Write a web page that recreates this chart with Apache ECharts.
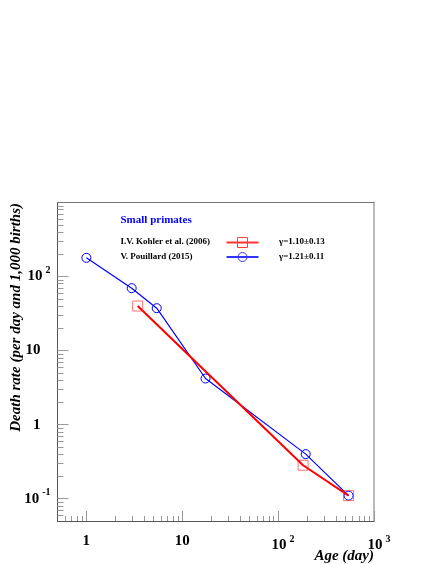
<!DOCTYPE html>
<html>
<head>
<meta charset="utf-8">
<script src="https://cdn.jsdelivr.net/npm/echarts@6/dist/echarts.min.js"></script>
<style>
html,body{margin:0;padding:0;background:#fff;}
#c{width:436px;height:564px;}
</style>
</head>
<body>
<div id="c"></div>
<script>
// ---- data ----
const kohlerAge = [3.43, 182, 543];
const kohlerRate = [40, 0.283, 0.11];
const pouillardAge = [1.0, 2.97, 5.42, 17.5, 194, 543];
const pouillardRate = [179, 69.7, 37.4, 4.2, 0.40, 0.11];
const xTickValues = [1, 10, 100, 1000];
const xTickLabels = ['1', '10', '10^2', '10^3'];
const yTickValues = [0.1, 1, 10, 100];
const yTickLabels = ['10^-1', '1', '10', '10^2'];
const xMinorValues = [0.6,0.7,0.8,0.9,2,3,4,5,6,7,8,9,20,30,40,50,60,70,80,90,200,300,400,500,600,700,800,900];
const yMinorValues = [0.06,0.07,0.08,0.09,0.2,0.3,0.4,0.5,0.6,0.7,0.8,0.9,2,3,4,5,6,7,8,9,20,30,40,50,60,70,80,90,200,300,400,500,600,700,800,900];
const legendTitle = 'Small primates';
const seriesNames = ['I.V. Kohler et al. (2006)', 'V. Pouillard (2015)'];
const gammaTexts = ['\u03b3=1.10\u00b10.13', '\u03b3=1.21\u00b10.11'];

const FONT = '"Liberation Serif","Times New Roman",serif';

function fmt(v, vals, labels, axis) {
  let i = vals.findIndex(t => Math.abs(Math.log10(t) - Math.log10(v)) < 1e-6);
  if (i < 0) return '';
  const s = labels[i];
  if (s.indexOf('^') >= 0) {
    const parts = s.split('^');
    return (axis === 'x' ? '{bx|' : '{b|') + parts[0] + '}{s|' + parts[1] + '}';
  }
  return (axis === 'x' ? '{px|' : '{p|') + s + '}';
}
const richCommon = {
  b: {fontFamily: FONT, fontWeight: 'bold', fontSize: 15, color: '#000', padding: [0, 3, 0, 0]},
  bx: {fontFamily: FONT, fontWeight: 'bold', fontSize: 15, color: '#000', padding: [0, 3, 0, 10]},
  s: {fontFamily: FONT, fontWeight: 'bold', fontSize: 10, color: '#000', padding: [0, 0, 12, 0]},
  p: {fontFamily: FONT, fontWeight: 'bold', fontSize: 15, color: '#000', padding: [0, 10, 0, 0]},
  px: {fontFamily: FONT, fontWeight: 'bold', fontSize: 15, color: '#000'}
};

const chart = echarts.init(document.getElementById('c'), null, {renderer: 'canvas'});
const grid = {left: 57.5, top: 202.5, right: 62, bottom: 43, show: false};

function pairs(xs, ys) { return xs.map((x, i) => [x, ys[i]]); }

// legend sample square drawn as four segments
const sq = {x0: 237.5, y0: 237.5, x1: 247.5, y1: 247.5};
const sqStyle = {stroke: 'rgb(255,60,60)', lineWidth: 1};
const legendSquare = [
  {type: 'line', shape: {x1: sq.x0, y1: sq.y0, x2: sq.x1, y2: sq.y0}, style: sqStyle},
  {type: 'line', shape: {x1: sq.x1, y1: sq.y0, x2: sq.x1, y2: sq.y1}, style: sqStyle},
  {type: 'line', shape: {x1: sq.x1, y1: sq.y1, x2: sq.x0, y2: sq.y1}, style: sqStyle},
  {type: 'line', shape: {x1: sq.x0, y1: sq.y1, x2: sq.x0, y2: sq.y0}, style: sqStyle}
];

chart.setOption({
  animation: false,
  backgroundColor: '#fff',
  grid: grid,
  xAxis: [
    {
      type: 'log', min: 0.5, max: 1000, position: 'bottom',
      axisLine: {show: true, lineStyle: {color: '#555', width: 1}},
      axisTick: {show: true, inside: true, length: 10, lineStyle: {color: '#999'}, customValues: xTickValues},
      axisLabel: {show: true, margin: 13, customValues: xTickValues, formatter: v => fmt(v, xTickValues, xTickLabels, 'x'), rich: richCommon},
      splitLine: {show: false}, minorTick: {show: false}
    },
    {
      type: 'log', min: 0.5, max: 1000, position: 'bottom',
      axisLine: {show: false},
      axisTick: {show: true, inside: true, length: 5, lineStyle: {color: '#999'}, customValues: xMinorValues},
      axisLabel: {show: false}, splitLine: {show: false}
    },
    {
      type: 'log', min: 0.5, max: 1000, position: 'top',
      axisLine: {show: true, lineStyle: {color: '#777', width: 1}},
      axisTick: {show: false}, axisLabel: {show: false}, splitLine: {show: false}
    }
  ],
  yAxis: [
    {
      type: 'log', min: 0.05, max: 1000, position: 'left',
      axisLine: {show: true, lineStyle: {color: '#555', width: 1}},
      axisTick: {show: true, inside: true, length: 11, lineStyle: {color: '#999'}, customValues: yTickValues},
      axisLabel: {show: true, margin: 7, customValues: yTickValues, formatter: v => fmt(v, yTickValues, yTickLabels, 'y'), rich: richCommon},
      splitLine: {show: false}
    },
    {
      type: 'log', min: 0.05, max: 1000, position: 'left',
      axisLine: {show: false},
      axisTick: {show: true, inside: true, length: 6, lineStyle: {color: '#999'}, customValues: yMinorValues},
      axisLabel: {show: false}, splitLine: {show: false}
    },
    {
      type: 'log', min: 0.05, max: 1000, position: 'right',
      axisLine: {show: true, lineStyle: {color: '#bbb', width: 2}},
      axisTick: {show: false}, axisLabel: {show: false}, splitLine: {show: false}
    }
  ],
  series: [
    {
      name: seriesNames[0], type: 'line', xAxisIndex: 0, yAxisIndex: 0,
      data: pairs(kohlerAge, kohlerRate),
      symbol: 'rect', symbolSize: 10,
      lineStyle: {color: '#ff0000', width: 2},
      itemStyle: {color: 'rgba(0,0,0,0)', borderColor: 'rgba(255,40,40,0.65)', borderWidth: 1},
      z: 3
    },
    {
      name: seriesNames[1], type: 'line', xAxisIndex: 0, yAxisIndex: 0,
      data: pairs(pouillardAge, pouillardRate),
      symbol: 'circle', symbolSize: 9,
      lineStyle: {color: '#0000ff', width: 1.2},
      itemStyle: {color: 'rgba(0,0,0,0)', borderColor: '#0000ff', borderWidth: 1},
      z: 2
    }
  ],
  graphic: [
    {type: 'text', left: 120.5, top: 215, style: {text: legendTitle, fill: '#0000ff', font: 'bold 11px ' + FONT}},
    {type: 'text', left: 120.5, top: 237.5, style: {text: seriesNames[0], fill: '#000', font: 'bold 9px ' + FONT}},
    {type: 'text', left: 120.5, top: 252, style: {text: seriesNames[1], fill: '#000', font: 'bold 9px ' + FONT}},
    {type: 'line', shape: {x1: 226.5, y1: 242.5, x2: 258.5, y2: 242.5}, style: {stroke: '#ff3333', lineWidth: 2}}
  ].concat(legendSquare).concat([
    {type: 'line', shape: {x1: 226.5, y1: 257, x2: 258.5, y2: 257}, style: {stroke: '#3333ff', lineWidth: 2}},
    {type: 'circle', shape: {cx: 242.5, cy: 257, r: 4.5}, style: {fill: 'none', stroke: '#3333ff', lineWidth: 1}},
    {type: 'text', left: 279, top: 237.5, style: {text: gammaTexts[0], fill: '#000', font: 'bold 9px ' + FONT}},
    {type: 'text', left: 279, top: 252, style: {text: gammaTexts[1], fill: '#000', font: 'bold 9px ' + FONT}},
    {type: 'text', right: 62, top: 549, style: {text: 'Age (day)', fill: '#000', font: 'italic bold 15px ' + FONT}},
    {type: 'text', x: 16, y: 203, rotation: Math.PI / 2, style: {text: 'Death rate (per day and 1,000 births)', fill: '#000', font: 'italic bold 15px ' + FONT, align: 'right', verticalAlign: 'middle'}}
  ])
});
</script>
</body>
</html>
